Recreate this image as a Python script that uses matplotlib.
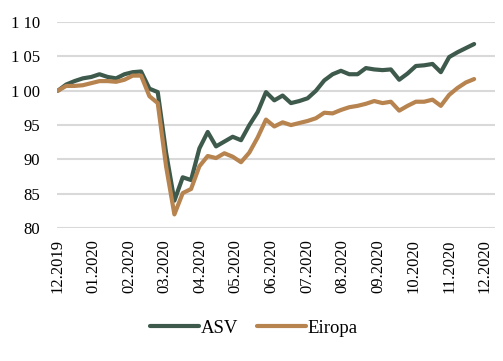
import numpy as np
import matplotlib
matplotlib.use("Agg")
import matplotlib.pyplot as plt

# weekly index values, 12.2019 = 100
asv = [100.0, 100.9, 101.4, 101.8, 102.0, 102.4, 102.0, 101.8, 102.4, 102.7,
       102.8, 100.3, 99.8, 91.0, 84.0, 87.4, 87.0, 91.6, 94.0, 91.9,
       92.6, 93.3, 92.8, 95.0, 96.9, 99.8, 98.6, 99.3, 98.2, 98.5,
       98.9, 100.0, 101.5, 102.4, 102.9, 102.4, 102.4, 103.3, 103.1, 103.0,
       103.1, 101.6, 102.5, 103.6, 103.7, 103.9, 102.7, 104.9, 105.6, 106.2,
       106.8]
eiropa = [100.0, 100.7, 100.7, 100.8, 101.1, 101.4, 101.4, 101.3, 101.6, 102.2,
          102.2, 99.2, 98.2, 89.0, 82.0, 85.1, 85.7, 89.0, 90.5, 90.2,
          90.9, 90.4, 89.6, 91.0, 93.2, 95.8, 94.8, 95.4, 95.0, 95.3,
          95.6, 96.0, 96.8, 96.7, 97.2, 97.6, 97.8, 98.1, 98.5, 98.2,
          98.4, 97.1, 97.8, 98.4, 98.4, 98.7, 97.8, 99.4, 100.4, 101.2,
          101.7]
months = ["12.2019", "01.2020", "02.2020", "03.2020", "04.2020", "05.2020",
          "06.2020", "07.2020", "08.2020", "09.2020", "10.2020", "11.2020",
          "12.2020"]
y_ticks = [80, 85, 90, 95, 100, 105, 110]
y_labels = ["80", "85", "90", "95", "1 00", "1 05", "1 10"]

plt.rcParams['font.family'] = ['Liberation Serif', 'DejaVu Serif']

fig = plt.figure(figsize=(5.03, 3.61), dpi=100)
ax = fig.add_axes([0.113, 0.368, 0.871, 0.571])

x = np.arange(len(asv))
ax.plot(x, asv, color='#3e5a4c', lw=3.0, solid_capstyle='round',
        solid_joinstyle='round', label='ASV')
ax.plot(x, eiropa, color='#b7834f', lw=3.0, solid_capstyle='round',
        solid_joinstyle='round', label='Eiropa')

month_pos = np.arange(len(months)) * 51.3 / 12
ax.set_xticks(month_pos)
ax.set_xticklabels(months, rotation=90, fontsize=12)
ax.set_yticks(y_ticks)
ax.set_yticklabels(y_labels, fontsize=12)
ax.set_xlim(-0.12, 52.5)
ax.set_ylim(80, 110)
ax.tick_params(axis='both', length=0)
ax.tick_params(axis='y', pad=12)
ax.tick_params(axis='x', pad=8)
ax.grid(axis='y', color='#d9d9d9', lw=1.5)
ax.set_axisbelow(True)
for s in ax.spines.values():
    s.set_visible(False)

fig.legend(loc='center', bbox_to_anchor=(254 / 503, 1 - 328 / 361), ncol=2,
           frameon=False, fontsize=13.5, handlelength=2.6, handletextpad=0.1,
           columnspacing=1.0)

fig.savefig('out.png', dpi=100)
